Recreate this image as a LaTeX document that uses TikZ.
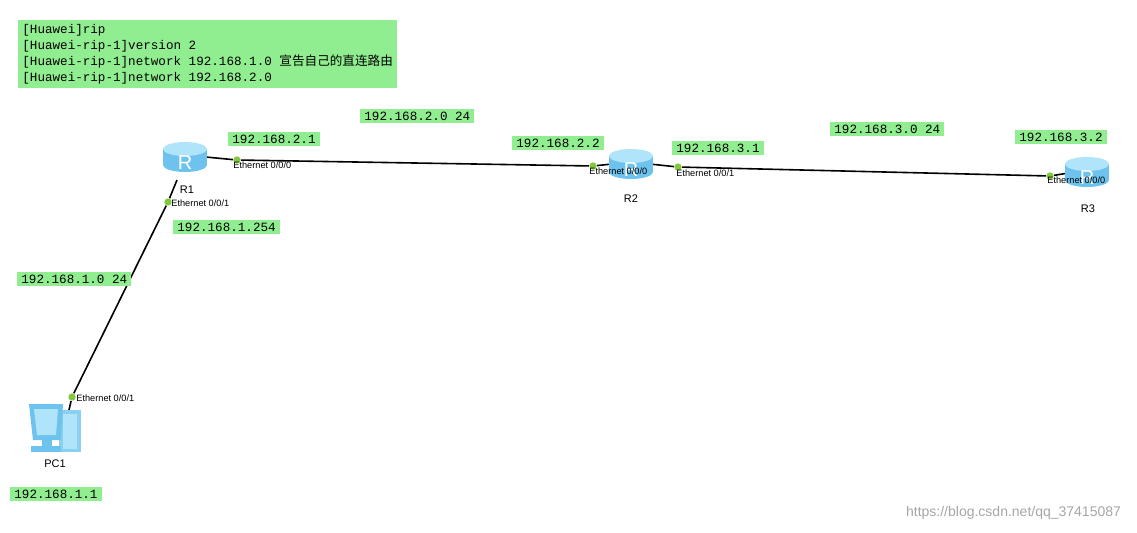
\documentclass[tikz,border=0pt]{standalone}
\usepackage{fontspec}
\setmainfont{Liberation Sans}
\setmonofont{Liberation Mono}
\newfontfamily\cjk{Noto Sans CJK SC}
\usetikzlibrary{backgrounds,calc}
\pgfdeclarelayer{edgelayer}
\pgfdeclarelayer{nodelayer}
\pgfsetlayers{edgelayer,main,nodelayer}
\definecolor{lblgreen}{RGB}{144,238,144}
\definecolor{rtblue}{RGB}{110,195,238}
\definecolor{rttop}{RGB}{175,228,250}
\definecolor{portgreen}{RGB}{130,200,60}
\tikzset{font=\fontsize{5.5}{6.5}\selectfont}
\tikzstyle{none}=[inner sep=0pt]
\tikzstyle{addr}=[fill=lblgreen,inner xsep=2pt,inner ysep=1.5pt,font=\ttfamily\fontsize{6.3}{7}\selectfont,anchor=west]
\tikzstyle{port}=[circle,fill=portgreen,inner sep=1.3pt]
\tikzstyle{ifname}=[inner sep=0pt,anchor=west,font=\fontsize{4.6}{5}\selectfont]
\tikzstyle{dev}=[inner sep=0pt,font=\fontsize{5.5}{6}\selectfont]
\tikzstyle{link}=[line width=0.8pt]
\newcommand{\router}[1]{%
  \fill[rtblue] ($(#1)+(-22,-6)$) rectangle ($(#1)+(22,10)$);
  \fill[rtblue] ($(#1)+(0,10)$) ellipse[x radius=22,y radius=7];
  \fill[rttop] ($(#1)+(0,-6)$) ellipse[x radius=22,y radius=7];
  \node[text=white,font=\fontsize{10}{10}\selectfont] at ($(#1)+(0,8)$) {R};}
\begin{document}
\begin{tikzpicture}[x=0.5pt,y=-0.5pt]
	\useasboundingbox (0,0) rectangle (1137,532);
	\begin{pgfonlayer}{nodelayer}
		\node [fill=lblgreen,anchor=north west,inner sep=2pt,align=left,font=\ttfamily\fontsize{6.3}{8}\selectfont] (cfg) at (18,20) {[Huawei]rip\\\relax [Huawei-rip-1]version 2\\\relax [Huawei-rip-1]network 192.168.1.0 {\cjk 宣告自己的直连路由}\\\relax [Huawei-rip-1]network 192.168.2.0};
		\node [style=none] (R1) at (185,155) {};
		\node [style=none] (R2) at (631,162) {};
		\node [style=none] (R3) at (1087,170) {};
		\node [style=none] (PC1) at (55,430) {};
		\node [style=dev] (r1lbl) at (187,190) {R1};
		\node [style=dev] (r2lbl) at (631,199) {R2};
		\node [style=dev] (r3lbl) at (1088,209) {R3};
		\node [style=dev] (pclbl) at (55,464) {PC1};
		\node [style=port] (p1) at (237,160) {};
		\node [style=port] (p2) at (593,166) {};
		\node [style=port] (p3) at (678,167) {};
		\node [style=port] (p4) at (1050,176) {};
		\node [style=port] (p5) at (168,202) {};
		\node [style=port] (p6) at (72,397) {};
		\node [style=ifname] at (233,165) {Ethernet 0/0/0};
		\node [style=ifname] at (589,171) {Ethernet 0/0/0};
		\node [style=ifname] at (676,173) {Ethernet 0/0/1};
		\node [style=ifname] at (1047,180) {Ethernet 0/0/0};
		\node [style=ifname] at (171,203) {Ethernet 0/0/1};
		\node [style=ifname] at (76,398) {Ethernet 0/0/1};
		\node [style=addr] at (228,139) {192.168.2.1};
		\node [style=addr] at (360,116) {192.168.2.0 24};
		\node [style=addr] at (512,143) {192.168.2.2};
		\node [style=addr] at (672,148) {192.168.3.1};
		\node [style=addr] at (830,129) {192.168.3.0 24};
		\node [style=addr] at (1015,137) {192.168.3.2};
		\node [style=addr] at (173,227) {192.168.1.254};
		\node [style=addr] at (17,279) {192.168.1.0 24};
		\node [style=addr] at (10,494) {192.168.1.1};
		\node [anchor=east,text=gray!70,font=\fontsize{7}{8}\selectfont] at (1128,513) {https://blog.csdn.net/qq\_37415087};
	\end{pgfonlayer}
	\begin{pgfonlayer}{edgelayer}
		\draw[link] (R1) to (p1) to (p2) to (R2);
		\draw[link] (R2) to (p3) to (p4) to (R3);
		\draw[link] ($(R1)+(-8,25)$) to (p5) to (p6) to ($(PC1)+(14,-20)$);
	\end{pgfonlayer}
	% devices
	\router{R1}
	\router{R2}
	\router{R3}
	\fill[rtblue!80] ($(PC1)+(4,-20)$) rectangle ($(PC1)+(26,22)$);
	\fill[rttop] ($(PC1)+(8,-16)$) rectangle ($(PC1)+(22,19)$);
	\fill[rtblue] ($(PC1)+(-26,-26)$) -- ($(PC1)+(8,-26)$) -- ($(PC1)+(6,10)$) -- ($(PC1)+(-22,10)$) -- cycle;
	\fill[rttop] ($(PC1)+(-21,-21)$) -- ($(PC1)+(3,-21)$) -- ($(PC1)+(1,5)$) -- ($(PC1)+(-18,5)$) -- cycle;
	\fill[rtblue] ($(PC1)+(-13,10)$) rectangle ($(PC1)+(-3,16)$);
	\fill[rtblue] ($(PC1)+(-24,16)$) rectangle ($(PC1)+(6,22)$);
\end{tikzpicture}
\end{document}
